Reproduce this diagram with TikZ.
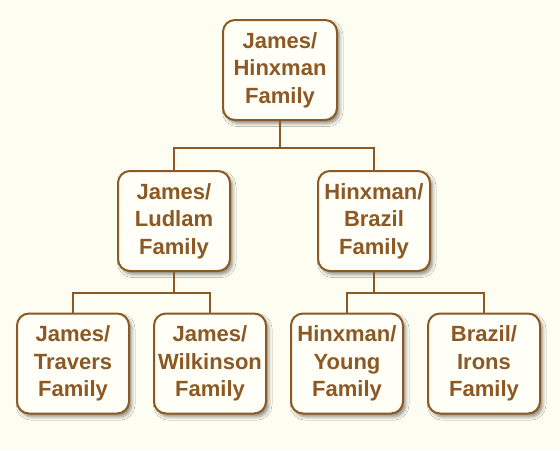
\documentclass[tikz,border=0pt]{standalone}
\usepackage{fontspec}
\setmainfont{Liberation Sans}
\usepackage{tikz}
\usetikzlibrary{shadows.blur}
\definecolor{family brown}{rgb}{0.5490, 0.3451, 0.1373}
\definecolor{family cream}{rgb}{0.9922, 0.9922, 0.9451}
\definecolor{box cream}{rgb}{1.0000, 1.0000, 0.9686}

\begin{document}
\begin{tikzpicture}[x=0.75pt, y=-0.75pt,
		family/.style={draw=family brown, line width=1.5pt, fill=box cream,
			rounded corners=9pt, minimum width=84pt, minimum height=75pt,
			inner sep=0pt, align=center, text=family brown,
			font=\fontsize{16.5}{20.5}\selectfont\bfseries,
			blur shadow={shadow xshift=2pt, shadow yshift=-2.5pt,
				shadow blur radius=2.5pt, shadow opacity=45}},
		link/.style={draw=family brown, line width=1.5pt}]
		% background
		\fill[family cream] (0, 0) rectangle (560, 450);
		\useasboundingbox (0, 0) rectangle (560, 450);
		% boxes
		\node[family, minimum width=85.5pt] (jameshinxman) at (280, 70) {James/\\Hinxman\\Family};
		\node[family] (jamesludlam) at (174, 221) {James/\\Ludlam\\Family};
		\node[family] (hinxmanbrazil) at (374, 221) {Hinxman/\\Brazil\\Family};
		\node[family] (jamestravers) at (73, 363.5) {James/\\Travers\\Family};
		\node[family] (jameswilkinson) at (210, 363.5) {James/\\Wilkinson\\Family};
		\node[family] (hinxmanyoung) at (347, 363.5) {Hinxman/\\Young\\Family};
		\node[family] (braziliron) at (484, 363.5) {Brazil/\\Irons\\Family};
		% connectors
		\coordinate (topjoin) at (280, 148);
		\coordinate (leftjoin) at (174, 293);
		\coordinate (rightjoin) at (374, 293);
		\draw[link] (jameshinxman.south) -- (topjoin) -| (jamesludlam.north);
		\draw[link] (topjoin) -| (hinxmanbrazil.north);
		\draw[link] (jamesludlam.south) -- (leftjoin) -| (jamestravers.north);
		\draw[link] (leftjoin) -| (jameswilkinson.north);
		\draw[link] (hinxmanbrazil.south) -- (rightjoin) -| (hinxmanyoung.north);
		\draw[link] (rightjoin) -| (braziliron.north);
	\end{tikzpicture}
\end{document}
